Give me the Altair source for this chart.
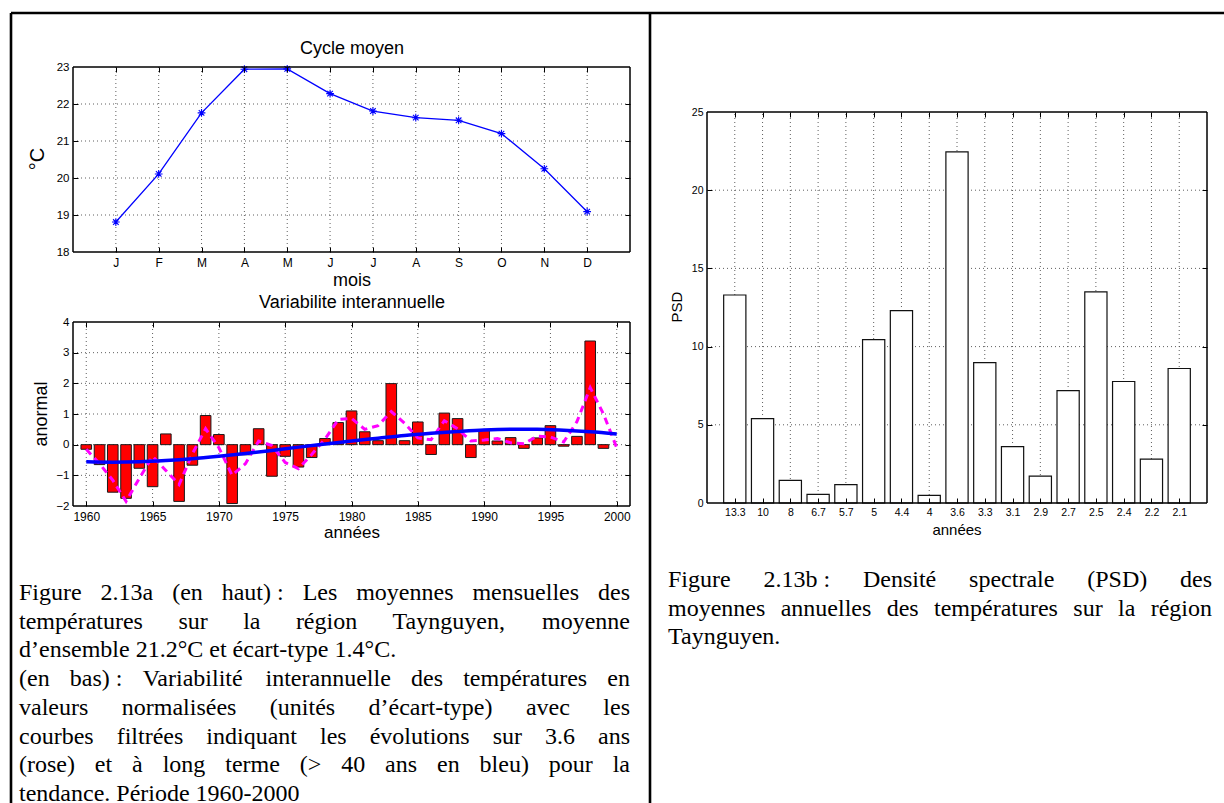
import json
import altair as alt
import pandas as pd

W, H = 1224, 803
SANS = "Liberation Sans"
SERIF = "Liberation Serif"
BLACK = "#000000"

# ---------------- data ----------------
# mean annual cycle (°C)
months = ["J", "F", "M", "A", "M", "J", "J", "A", "S", "O", "N", "D"]
month_temp = [18.81, 20.11, 21.76, 22.94, 22.95, 22.28, 21.81, 21.63, 21.56, 21.20, 20.25, 19.09]

# normalised yearly anomalies, 1960-1999
anom_years = list(range(1960, 2000))
anomaly = [-0.15, -0.65, -1.55, -1.75, -0.77, -1.37, 0.35, -1.85, -0.67, 0.95,
           0.33, -1.92, -0.33, 0.52, -1.03, -0.38, -0.73, -0.42, 0.20, 0.72,
           1.10, 0.42, 0.13, 1.99, 0.13, 0.74, -0.32, 1.03, 0.85, -0.42,
           0.48, 0.12, 0.23, -0.12, 0.22, 0.62, -0.05, 0.27, 3.38, -0.12]

# 3.6-year filtered curve, 1960-2000
filt_years = list(range(1960, 2001))
filt_36 = [-0.15, -0.62, -1.16, -1.85, -1.10, -0.38, -0.84, -1.30, -0.30, 0.52,
           -0.10, -1.00, -0.62, 0.12, -0.03, -0.58, -0.78, -0.32, 0.18, 0.82,
           0.86, 0.50, 0.62, 1.08, 0.70, 0.22, 0.16, 0.78, 0.52, 0.12,
           0.15, 0.20, 0.06, 0.03, 0.28, 0.25, 0.09, 0.75, 1.86, 1.00, -0.10]

# long-term (> 40 years) trend
trend_years = list(range(1960, 2001, 2))
trend = [-0.56, -0.57, -0.56, -0.52, -0.46, -0.38, -0.29, -0.19, -0.08, 0.02, 0.12,
         0.21, 0.30, 0.37, 0.43, 0.48, 0.50, 0.50, 0.47, 0.42, 0.35]

# spectral density by period (years)
periods = ["13.3", "10", "8", "6.7", "5.7", "5", "4.4", "4", "3.6", "3.3", "3.1",
           "2.9", "2.7", "2.5", "2.4", "2.2", "2.1"]
psd = [13.3, 5.4, 1.45, 0.55, 1.17, 10.45, 12.3, 0.49, 22.45, 8.98, 3.6,
       1.72, 7.19, 13.5, 7.77, 2.8, 8.6]

# ---------------- plot frames (pixels on the page) ----------------
A_PX, A_PY = (73, 630), (252, 67)
B_PX, B_PY = (73, 630), (506, 322)
C_PX, C_PY = (707, 1207), (503, 112)


def sc(domain, rng):
    return alt.Scale(domain=list(domain), range=list(rng), nice=False, zero=False)


GRID = dict(color="#4d4d4d", strokeDash=[1, 3], strokeWidth=0.9)
TICK = 5
ONE = pd.DataFrame({"k": [0]})


def label_axis(orient, offset, values, size, pad, expr=None, fmt=None):
    kw = dict(orient=orient, offset=offset, values=values, domain=False, ticks=False,
              grid=False, labelPadding=pad, labelFont=SANS, labelFontSize=size,
              labelColor=BLACK, labelFlush=False, labelOverlap=False, title=None)
    if expr is not None:
        kw["labelExpr"] = expr
    if fmt is not None:
        kw["format"] = fmt
    return alt.Axis(**kw)


def tick_axis(orient, offset, values):
    return alt.Axis(orient=orient, offset=offset, values=values, labels=False,
                    domain=False, grid=False, ticks=True, tickSize=TICK,
                    tickColor=BLACK, tickWidth=1, zindex=1, title=None)


def grid_layers(xs, ys, xdom, ydom, xgrid, ygrid, xlab, ylab):
    gv = alt.Chart(pd.DataFrame({"v": xgrid})).mark_rule(**GRID).encode(
        x=alt.X("v:Q", scale=xs, axis=xlab),
        y=alt.YDatum(ydom[0], type="quantitative", scale=ys, axis=None),
        y2=alt.Y2Datum(ydom[1]))
    gh = alt.Chart(pd.DataFrame({"v": ygrid})).mark_rule(**GRID).encode(
        y=alt.Y("v:Q", scale=ys, axis=ylab),
        x=alt.XDatum(xdom[0], type="quantitative", scale=xs, axis=None),
        x2=alt.X2Datum(xdom[1]))
    return [gv, gh]


def box_layers(xs, ys, xdom, ydom, px, py, xt, yt):
    box = alt.Chart(ONE).mark_rect(filled=False, color=BLACK, strokeWidth=1)
    # ticks pointing inward from the bottom and left edges
    b1 = box.encode(
        x=alt.XDatum(xdom[0], type="quantitative", scale=xs,
                     axis=tick_axis("top", -py[0], xt)),
        x2=alt.X2Datum(xdom[1]),
        y=alt.YDatum(ydom[0], type="quantitative", scale=ys,
                     axis=tick_axis("right", px[0] - W, yt)),
        y2=alt.Y2Datum(ydom[1]))
    # ticks pointing inward from the top and right edges
    b2 = box.encode(
        x=alt.XDatum(xdom[0], type="quantitative", scale=xs,
                     axis=tick_axis("bottom", py[1] - H, xt)),
        x2=alt.X2Datum(xdom[1]),
        y=alt.YDatum(ydom[0], type="quantitative", scale=ys,
                     axis=tick_axis("left", -px[1], yt)),
        y2=alt.Y2Datum(ydom[1]))
    return [b1, b2]


def text(t, x, y, size, angle=0, font=SANS):
    return alt.Chart(pd.DataFrame({"t": [t]})).mark_text(
        font=font, fontSize=size, angle=angle, align="center", baseline="middle",
        color=BLACK).encode(x=alt.value(x), y=alt.value(y), text="t:N")


layers = []

# ---------------- top-left: mean cycle ----------------
A_xd, A_yd = (0, 13), (18, 23)
A_xs, A_ys = sc(A_xd, A_PX), sc(A_yd, A_PY)
month_expr = json.dumps(months) + "[datum.value - 1]"
layers += grid_layers(
    A_xs, A_ys, A_xd, A_yd, list(range(1, 13)), [19, 20, 21, 22],
    label_axis("bottom", A_PY[0] - H, list(range(1, 13)), 12, 5, month_expr),
    label_axis("left", -A_PX[0], [18, 19, 20, 21, 22, 23], 11.5, 4))

dfA = pd.DataFrame({"m": list(range(1, 13)), "t": month_temp})
A_enc = dict(x=alt.X("m:Q", scale=A_xs, axis=None), y=alt.Y("t:Q", scale=A_ys, axis=None))
STAR = "M-1,0L1,0M0,-1L0,1M-0.72,-0.72L0.72,0.72M-0.72,0.72L0.72,-0.72"
layers.append(alt.Chart(dfA).mark_line(color="#0000ff", strokeWidth=1.3).encode(**A_enc))
layers.append(alt.Chart(dfA).mark_point(shape=STAR, size=60, filled=False, color="#0000ff",
                                        strokeWidth=1.1, opacity=1).encode(**A_enc))
layers += box_layers(A_xs, A_ys, A_xd, A_yd, A_PX, A_PY, list(range(1, 13)), [19, 20, 21, 22])

# ---------------- bottom-left: interannual variability ----------------
B_xd, B_yd = (1959, 2001), (-2, 4)
B_xs, B_ys = sc(B_xd, B_PX), sc(B_yd, B_PY)
year_ticks = list(range(1960, 2001, 5))
layers += grid_layers(
    B_xs, B_ys, B_xd, B_yd, year_ticks, [-1, 0, 1, 2, 3],
    label_axis("bottom", B_PY[0] - H, year_ticks, 12, 5, fmt="d"),
    label_axis("left", -B_PX[0], [-2, -1, 0, 1, 2, 3, 4], 11.5, 4,
               "replace(datum.label, '-', '\u2212')"))

dfB = pd.DataFrame({"yr": anom_years, "a": anomaly})
layers.append(
    alt.Chart(dfB).transform_calculate(x0="datum.yr - 0.4", x1="datum.yr + 0.4")
    .mark_rect(color="#ff0000", stroke="#1a1a1a", strokeWidth=1)
    .encode(x=alt.X("x0:Q", scale=B_xs, axis=None), x2="x1:Q",
            y=alt.Y("a:Q", scale=B_ys, axis=None), y2=alt.Y2Datum(0)))
dfF = pd.DataFrame({"yr": filt_years, "f": filt_36})
layers.append(alt.Chart(dfF).mark_line(color="#ff00ff", strokeWidth=3, strokeDash=[7, 5]).encode(
    x=alt.X("yr:Q", scale=B_xs, axis=None), y=alt.Y("f:Q", scale=B_ys, axis=None)))
dfT = pd.DataFrame({"yr": trend_years, "tr": trend})
layers.append(alt.Chart(dfT).mark_line(color="#0000ff", strokeWidth=3.5, interpolate="monotone").encode(
    x=alt.X("yr:Q", scale=B_xs, axis=None), y=alt.Y("tr:Q", scale=B_ys, axis=None)))
layers += box_layers(B_xs, B_ys, B_xd, B_yd, B_PX, B_PY, year_ticks, [-1, 0, 1, 2, 3])

# ---------------- right: spectral density ----------------
C_xd, C_yd = (0, 18), (0, 25)
C_xs, C_ys = sc(C_xd, C_PX), sc(C_yd, C_PY)
pos = list(range(1, len(periods) + 1))
period_expr = json.dumps(periods) + "[datum.value - 1]"
layers += grid_layers(
    C_xs, C_ys, C_xd, C_yd, pos, [5, 10, 15, 20],
    label_axis("bottom", C_PY[0] - H, pos, 10.5, 4, period_expr),
    label_axis("left", -C_PX[0], [0, 5, 10, 15, 20, 25], 10.5, 4))
dfC = pd.DataFrame({"i": pos, "p": psd})
layers.append(
    alt.Chart(dfC).transform_calculate(x0="datum.i - 0.4", x1="datum.i + 0.4")
    .mark_rect(color="#ffffff", stroke="#111111", strokeWidth=1.2)
    .encode(x=alt.X("x0:Q", scale=C_xs, axis=None), x2="x1:Q",
            y=alt.Y("p:Q", scale=C_ys, axis=None), y2=alt.Y2Datum(0)))
layers += box_layers(C_xs, C_ys, C_xd, C_yd, C_PX, C_PY, pos, [5, 10, 15, 20])

# ---------------- titles and axis names ----------------
layers += [
    text("Cycle moyen", 352, 49, 18),
    text("mois", 352, 281, 18),
    text("°C", 38, 159, 20, angle=270),
    text("Variabilite interannuelle", 352, 303, 18),
    text("années", 352, 533, 17),
    text("anormal", 42, 414, 18, angle=270),
    text("PSD", 677, 307, 15, angle=270),
    text("années", 957, 530, 15),
]

# ---------------- page rules ----------------
def rule(**enc):
    return alt.Chart(ONE).mark_rule(color=BLACK, strokeWidth=2.6).encode(
        **{k: alt.value(v) for k, v in enc.items()})

layers += [rule(x=11, x2=W, y=13), rule(x=11, y=13, y2=H), rule(x=650, y=13, y2=H)]

# ---------------- captions (justified serif text) ----------------
TNR = {" ": 250, "\u00a0": 250, ".": 250, ",": 250, ":": 278, "(": 333, ")": 333,
       "-": 333, "\u2019": 333, "°": 400, ">": 564,
       "F": 556, "L": 611, "T": 611, "P": 556, "D": 722, "S": 556, "C": 667, "V": 722}
for ch, w in zip("abcdefghijklmnopqrstuvwxyz",
                 [444, 500, 444, 500, 444, 333, 500, 500, 278, 278, 500, 278, 778,
                  500, 500, 500, 500, 333, 389, 278, 500, 500, 722, 500, 500, 444]):
    TNR[ch] = w
TNR.update({"é": 444, "è": 444, "à": 444})
for d in "0123456789":
    TNR[d] = 500

FS = 24
LINE = 28.7


def tw(s):
    return sum(TNR.get(c, 500) for c in s) * FS / 1000.0


def caption_rows(lines, x0, x1, y0):
    rows = []
    for i, (line, justify) in enumerate(lines):
        words = line.split(" ")
        widths = [tw(w) for w in words]
        gap = (x1 - x0 - sum(widths)) / (len(words) - 1) if justify and len(words) > 1 else tw(" ")
        x = x0
        for w, wd in zip(words, widths):
            rows.append({"x": x, "y": y0 + i * LINE, "w": w})
            x += wd + gap
    return rows


left_caption = [
    ("Figure 2.13a (en haut)\u00a0: Les moyennes mensuelles des", True),
    ("températures sur la région Taynguyen, moyenne", True),
    ("d\u2019ensemble 21.2°C et écart-type 1.4°C.", False),
    ("(en bas)\u00a0: Variabilité interannuelle des températures en", True),
    ("valeurs normalisées (unités d\u2019écart-type) avec les", True),
    ("courbes filtrées indiquant les évolutions sur 3.6 ans", True),
    ("(rose) et à long terme (> 40 ans en bleu) pour la", True),
    ("tendance. Période 1960-2000", False),
]
right_caption = [
    ("Figure 2.13b\u00a0: Densité spectrale (PSD) des", True),
    ("moyennes annuelles des températures sur la région", True),
    ("Taynguyen.", False),
]
cap = pd.DataFrame(caption_rows(left_caption, 19, 630, 593) +
                   caption_rows(right_caption, 668, 1212, 580))
layers.append(
    alt.Chart(cap).mark_text(font=SERIF, fontSize=FS, align="left", baseline="middle",
                             color=BLACK)
    .encode(x=alt.X("x:Q", scale=sc((0, W), (0, W)), axis=None),
            y=alt.Y("y:Q", scale=sc((0, H), (0, H)), axis=None),
            text="w:N"))

chart = (
    alt.layer(*layers)
    .resolve_scale(x="independent", y="independent")
    .resolve_axis(x="independent", y="independent")
    .properties(width=W, height=H, padding=0, background="white",
                autosize=alt.AutoSizeParams(type="none"))
    .configure_view(strokeWidth=0)
)

chart.save("out.html", embed_options={"renderer": "svg", "actions": False})
